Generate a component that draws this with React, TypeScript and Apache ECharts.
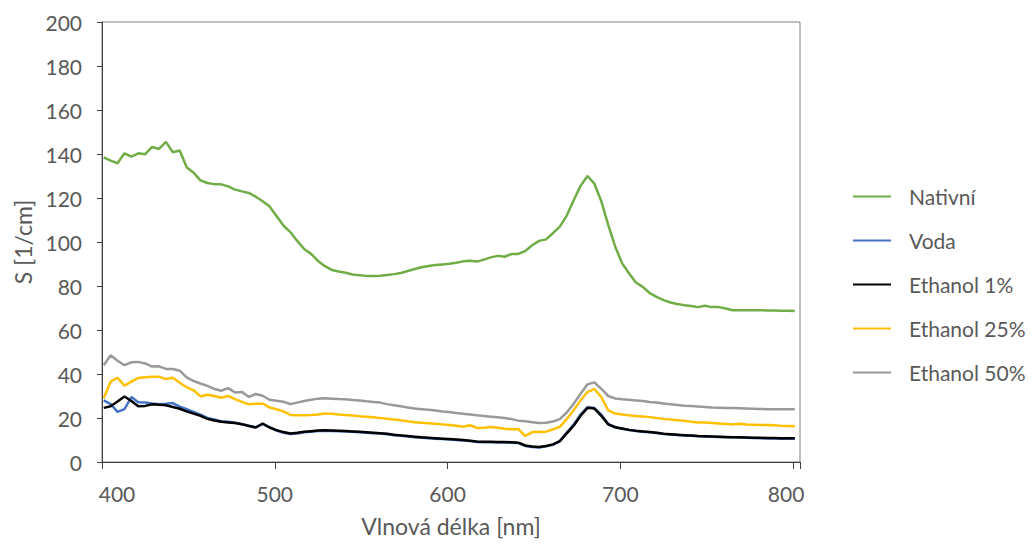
import React, { useEffect, useRef } from "react";
import * as echarts from "echarts";

const wavelengths = [
  401, 405, 409, 413, 417, 421, 425, 429, 433, 437,
  441, 445, 449, 453, 457, 461, 465, 469, 473, 477,
  481, 485, 489, 493, 497, 501, 505, 509, 513, 517,
  521, 525, 529, 533, 537, 541, 545, 549, 553, 557,
  561, 565, 569, 573, 577, 581, 585, 589, 593, 597,
  601, 605, 609, 613, 617, 621, 625, 629, 633, 637,
  641, 645, 649, 653, 657, 661, 665, 669, 673, 677,
  681, 685, 689, 693, 697, 701, 705, 709, 713, 717,
  721, 725, 729, 733, 737, 741, 745, 749, 753, 757,
  761, 765, 769, 773, 777, 781, 785, 789, 793, 797,
  801,
];

const nativni = [
  138.5, 137, 135.8, 140.3, 138.8, 140.3, 139.9, 143.2, 142.3, 145.5,
  140.8, 141.6, 134, 131.5, 128, 126.8, 126.3, 126.2, 125.3, 123.8,
  123, 122.3, 120.6, 118.5, 116.1, 111.8, 107.5, 104.5, 100.5, 96.8,
  94.6, 91.4, 89, 87.3, 86.6, 86, 85.2, 84.9, 84.6, 84.6,
  84.7, 85, 85.4, 85.9, 86.8, 87.7, 88.5, 89.1, 89.5, 89.8,
  90.1, 90.6, 91.2, 91.5, 91.1, 92, 93, 93.7, 93.3, 94.5,
  94.6, 95.9, 98.5, 100.5, 101.2, 104, 107, 112, 119, 125.5,
  130, 126.5, 118.5, 107.8, 98, 90.4, 85.8, 81.6, 79.6, 76.8,
  75.1, 73.6, 72.5, 71.8, 71.3, 70.9, 70.4, 71, 70.4, 70.4,
  69.8, 69, 69, 69, 69, 69, 68.9, 68.9, 68.8, 68.7,
  68.6,
];

const voda = [
  28, 26.3, 22.8, 24, 29.5, 27.2, 27, 26.6, 26.3, 26.5,
  26.8, 25.2, 24, 22.8, 21.5, 20, 19.3, 18.5, 18.3, 17.8,
  17.2, 16.5, 15.8, 17.2, 15.8, 14.3, 13.3, 12.7, 13, 13.5,
  13.8, 14.1, 14.2, 14.1, 14, 13.9, 13.7, 13.5, 13.3, 13.1,
  12.9, 12.6, 12.2, 11.9, 11.6, 11.3, 11, 10.8, 10.6, 10.4,
  10.2, 10, 9.8, 9.5, 9.1, 9, 9, 8.9, 8.9, 8.8,
  8.6, 7.3, 6.8, 6.6, 7.1, 7.8, 9.5, 13.4, 17, 21.6,
  25, 24.5, 21.5, 17.3, 15.8, 15.1, 14.5, 14.1, 13.8, 13.5,
  13.2, 12.7, 12.5, 12.3, 12.1, 11.9, 11.7, 11.6, 11.5, 11.4,
  11.3, 11.2, 11.1, 11, 10.9, 10.8, 10.7, 10.7, 10.6, 10.6,
  10.6,
];

const ethanol1 = [
  24.6, 25.3, 27.5, 29.8, 27.7, 25.3, 25.5, 26.2, 26, 25.8,
  25, 24.2, 23, 22, 21, 19.6, 18.9, 18.3, 18, 17.7,
  17.2, 16.4, 15.7, 17.5, 15.7, 14.5, 13.6, 13, 13.3, 13.7,
  14, 14.3, 14.4, 14.3, 14.2, 14.1, 13.9, 13.7, 13.5, 13.3,
  13.1, 12.8, 12.4, 12.1, 11.8, 11.5, 11.2, 11, 10.8, 10.6,
  10.4, 10.2, 10, 9.7, 9.3, 9.2, 9.2, 9.1, 9.1, 9,
  8.8, 7.5, 7, 6.8, 7.3, 8, 9.5, 13, 16.5, 21,
  24.6, 24.3, 21, 17.1, 15.8, 15.2, 14.6, 14.2, 13.9, 13.6,
  13.3, 12.8, 12.6, 12.4, 12.2, 12, 11.8, 11.7, 11.6, 11.5,
  11.4, 11.3, 11.2, 11.1, 11, 11, 10.9, 10.9, 10.8, 10.8,
  10.8,
];

const ethanol25 = [
  29, 36.5, 38.3, 34.7, 36.5, 38.2, 38.5, 38.8, 38.8, 37.7,
  38.3, 36, 34, 32.6, 29.8, 30.6, 30, 29.2, 30, 28.6,
  27.3, 26.2, 26.5, 26.5, 24.8, 24, 23, 21.4, 21.3, 21.3,
  21.4, 21.6, 22, 21.9, 21.6, 21.4, 21.1, 20.8, 20.6, 20.3,
  20, 19.7, 19.3, 19, 18.5, 18.1, 17.8, 17.6, 17.4, 17.1,
  16.8, 16.5, 16, 16.7, 15.5, 15.6, 15.9, 15.6, 15.1, 14.9,
  14.9, 11.8, 13.6, 13.6, 13.8, 14.8, 16, 19.5, 23.5, 28,
  31.8, 33.2, 29.5, 23.5, 22, 21.6, 21.2, 20.9, 20.7, 20.4,
  20, 19.6, 19.3, 19, 18.7, 18.3, 18, 17.9, 17.7, 17.5,
  17.3, 17.1, 17.4, 17, 16.9, 16.8, 16.8, 16.7, 16.5, 16.4,
  16.3,
];

const ethanol50 = [
  44, 48.5, 46, 44, 45.3, 45.5, 44.8, 43.4, 43.5, 42.3,
  42.3, 41.5, 38.5, 36.8, 35.7, 34.6, 33.2, 32.4, 33.6, 31.6,
  31.8, 29.6, 30.9, 30.1, 28.3, 27.8, 27.4, 26.3, 27, 27.7,
  28.3, 28.8, 29, 28.8, 28.6, 28.5, 28.2, 28, 27.6, 27.3,
  27, 26.3, 25.8, 25.3, 24.8, 24.3, 24, 23.7, 23.4, 23,
  22.7, 22.3, 21.9, 21.6, 21.2, 20.9, 20.6, 20.3, 20, 19.5,
  18.8, 18.5, 18.1, 17.7, 17.8, 18.4, 19.5, 22.5, 26.5, 31,
  35.3, 36.2, 33.2, 30, 28.9, 28.5, 28.3, 28, 27.7, 27.3,
  27, 26.6, 26.2, 25.9, 25.6, 25.4, 25.2, 25, 24.8, 24.7,
  24.6, 24.5, 24.4, 24.3, 24.2, 24.1, 24, 24, 24, 24,
  24,
];

const seriesNames = ["Nativní", "Voda", "Ethanol 1%", "Ethanol 25%", "Ethanol 50%"];
const seriesValues = [nativni, voda, ethanol1, ethanol25, ethanol50];
const seriesColors = ["#70AD47", "#4472C4", "#000000", "#FFC000", "#999999"];

const xTickLabels = [400, 500, 600, 700, 800];

const FONT = "Lato, 'Open Sans', sans-serif";
const TEXT = "#595959";

export default function App() {
  const ref = useRef<HTMLDivElement>(null);

  useEffect(() => {
    if (!ref.current) return;
    const chart = echarts.init(ref.current, null, { renderer: "svg" });
    const option: any = {
      animation: false,
      backgroundColor: "#ffffff",
      grid: {
        left: 102,
        right: 232,
        top: 22,
        bottom: 83,
        show: true,
        borderColor: "#808080",
        borderWidth: 1,
        backgroundColor: "transparent",
        outerBoundsMode: "none",
      },
      legend: {
        orient: "vertical",
        left: 852,
        top: 186,
        padding: 0,
        itemWidth: 38,
        itemHeight: 21,
        itemGap: 23,
        data: seriesNames,
        itemStyle: { opacity: 0 },
        textStyle: {
          fontSize: 21,
          fontFamily: FONT,
          color: TEXT,
          padding: [0, 0, 0, 13],
        },
      },
      xAxis: {
        type: "value",
        min: 400,
        max: 804,
        interval: 100,
        name: "Vlnová délka [nm]",
        nameLocation: "middle",
        nameGap: 52,
        nameTextStyle: { fontSize: 23, fontFamily: FONT, color: TEXT },
        axisLine: { show: true, lineStyle: { color: "#404040", width: 1 } },
        axisTick: { show: true, length: 7, lineStyle: { color: "#404040" } },
        splitLine: { show: false },
        axisLabel: {
          margin: 21,
          fontSize: 21,
          fontFamily: FONT,
          color: TEXT,
          formatter: (v: number) => {
            if (!xTickLabels.includes(v)) return "";
            if (v === xTickLabels[0]) return "{first|" + v + "}";
            if (v === xTickLabels[xTickLabels.length - 1]) return "{last|" + v + "}";
            return String(v);
          },
          rich: {
            first: { fontSize: 21, fontFamily: FONT, color: TEXT, padding: [0, 0, 0, 30] },
            last: { fontSize: 21, fontFamily: FONT, color: TEXT, padding: [0, 14, 0, 0] },
          },
        },
      },
      yAxis: {
        type: "value",
        min: 0,
        max: 200,
        interval: 20,
        name: "S [1/cm]",
        nameLocation: "middle",
        nameGap: 68,
        nameTextStyle: { fontSize: 23, fontFamily: FONT, color: TEXT },
        axisLine: { show: true, lineStyle: { color: "#404040", width: 1 } },
        axisTick: { show: true, length: 5, lineStyle: { color: "#404040" } },
        splitLine: { show: false },
        axisLabel: { margin: 20, fontSize: 21, fontFamily: FONT, color: TEXT },
      },
      series: seriesNames.map((name, i) => ({
        name,
        type: "line",
        symbol: "none",
        showSymbol: false,
        color: seriesColors[i],
        lineStyle: { color: seriesColors[i], width: 2.5 },
        data: wavelengths.map((w, k) => [w, seriesValues[i][k]]),
      })),
    };
    chart.setOption(option);
    return () => chart.dispose();
  }, []);

  return (
    <div
      ref={ref}
      style={{ position: "fixed", left: 0, top: 0, width: 1032, height: 545 }}
    />
  );
}
